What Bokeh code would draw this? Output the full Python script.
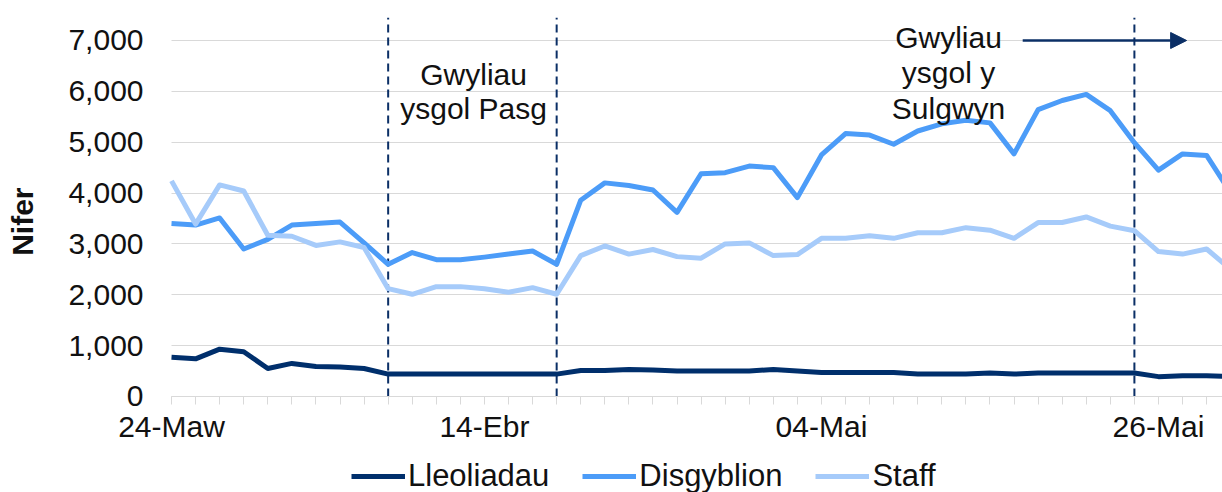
from bokeh.plotting import figure
from bokeh.models import (Range1d, FixedTicker, NumeralTickFormatter, Label,
                          Legend, LegendItem, Arrow, NormalHead)
from bokeh.embed import file_html
from bokeh.resources import INLINE

# ---- data (one point per school day, index 0 = 24-Maw) ----
lleoliadau = [770, 740, 930, 880, 550, 650, 590, 580, 550, 440,
              440, 440, 440, 440, 440, 440, 440, 510, 510, 530,
              520, 500, 500, 500, 500, 530, 500, 470, 470, 470,
              470, 440, 440, 440, 460, 440, 460, 460, 460, 460,
              460, 390, 410, 410, 390]
disgyblion = [3400, 3370, 3510, 2900, 3090, 3370, 3400, 3430, 3020, 2600,
              2830, 2690, 2690, 2740, 2800, 2860, 2600, 3860, 4200, 4150,
              4060, 3620, 4380, 4400, 4530, 4500, 3910, 4750, 5170, 5140,
              4960, 5220, 5360, 5430, 5380, 4770, 5640, 5820, 5940, 5620,
              4990, 4450, 4770, 4740, 4000]
staff = [4240, 3390, 4160, 4040, 3170, 3150, 2970, 3040, 2930, 2120,
         2010, 2160, 2160, 2120, 2050, 2140, 2010, 2770, 2960, 2800,
         2890, 2750, 2720, 3000, 3020, 2770, 2790, 3110, 3110, 3160,
         3110, 3220, 3220, 3320, 3270, 3110, 3420, 3420, 3530, 3350,
         3260, 2850, 2800, 2900, 2500]
days = list(range(len(staff)))

date_labels = {0: "24-Maw", 13: "14-Ebr", 27: "04-Mai", 41: "26-Mai"}
y_ticks = [0, 1000, 2000, 3000, 4000, 5000, 6000, 7000]
holiday_marks = [9, 16, 40]

series_names = ["Lleoliadau", "Disgyblion", "Staff"]
series_colors = ["#002F6C", "#4C9CF8", "#A6CBFA"]

FONT = "Liberation Sans"
NAVY = "#0B2F66"
TXT = "#111111"

X_START, X_END = -7.104, 43.66
Y_START, Y_TOP = -1888, 7452
p = figure(width=1222, height=492, output_backend="svg", toolbar_location=None,
           x_range=Range1d(X_START, X_END), y_range=Range1d(Y_START, Y_TOP),
           min_border_left=0, min_border_right=0, min_border_top=17,
           min_border_bottom=0, outline_line_color=None)

# grid (only across the plotted days)
p.xgrid.grid_line_color = None
p.ygrid.grid_line_color = "#D9D9D9"
p.ygrid.grid_line_width = 1
p.ygrid.cross_bounds = (0, X_END)

# x axis pinned at value 0
xa = p.xaxis[0]
xa.fixed_location = 0
xa.bounds = (0, X_END)
xa.ticker = FixedTicker(ticks=days)
xa.major_label_overrides = {d: date_labels.get(d, "") for d in days}
xa.axis_line_color = "#D9D9D9"
xa.major_tick_line_color = "#D9D9D9"
xa.major_tick_out = 8
xa.major_tick_in = 0
xa.minor_tick_line_color = None
xa.major_label_standoff = 6
xa.major_label_text_font = FONT
xa.major_label_text_font_size = "30px"
xa.major_label_text_color = TXT

# y axis pinned at the first day
ya = p.yaxis[0]
ya.fixed_location = 0
ya.ticker = FixedTicker(ticks=y_ticks)
ya.formatter = NumeralTickFormatter(format="0,0")
ya.axis_line_color = None
ya.major_tick_line_color = None
ya.major_tick_out = 0
ya.major_tick_in = 0
ya.minor_tick_line_color = None
ya.minor_tick_out = 0
ya.major_label_standoff = 28
ya.major_label_text_font = FONT
ya.major_label_text_font_size = "30px"
ya.major_label_text_color = TXT
ya.axis_label = "\u00a0" * 8 + "Nifer"
ya.axis_label_text_font = FONT
ya.axis_label_text_font_size = "30px"
ya.axis_label_text_font_style = "bold"
ya.axis_label_text_color = TXT
ya.axis_label_standoff = 26

# holiday dashed markers (from the x axis up to the top of the plot area)
p.segment(x0=holiday_marks, y0=[0] * len(holiday_marks),
          x1=holiday_marks, y1=[Y_TOP] * len(holiday_marks),
          line_color=NAVY, line_width=2, line_dash="8 5")

# lines
renderers = []
for vals, name, col in zip([lleoliadau, disgyblion, staff], series_names, series_colors):
    r = p.line(days, vals, line_color=col, line_width=5, line_join="round")
    renderers.append(r)

# annotations
def lab(x, y, t):
    p.add_layout(Label(x=x, y=y, text=t, text_align="center", text_baseline="alphabetic",
                       text_font=FONT, text_font_size="30px", text_color=TXT))

lab(12.55, 6331, "Gwyliau")
lab(12.55, 5663, "ysgol Pasg")
lab(32.28, 7059, "Gwyliau")
lab(32.28, 6361, "ysgol y")
lab(32.28, 5663, "Sulgwyn")

p.add_layout(Arrow(end=NormalHead(size=16, fill_color=NAVY, line_color=NAVY),
                   x_start=35.36, y_start=7000, x_end=42.17, y_end=7000,
                   line_color=NAVY, line_width=2.5))

legend = Legend(items=[LegendItem(label=n, renderers=[r]) for n, r in zip(series_names, renderers)],
                orientation="horizontal", location=(351, -2),
                border_line_color=None, background_fill_alpha=0,
                padding=0, margin=0, spacing=33, glyph_width=54, glyph_height=20,
                label_height=20, label_standoff=3,
                label_text_font=FONT, label_text_font_size="31px",
                label_text_color=TXT)
p.add_layout(legend)

open("out.html", "w").write(file_html(p, INLINE))
